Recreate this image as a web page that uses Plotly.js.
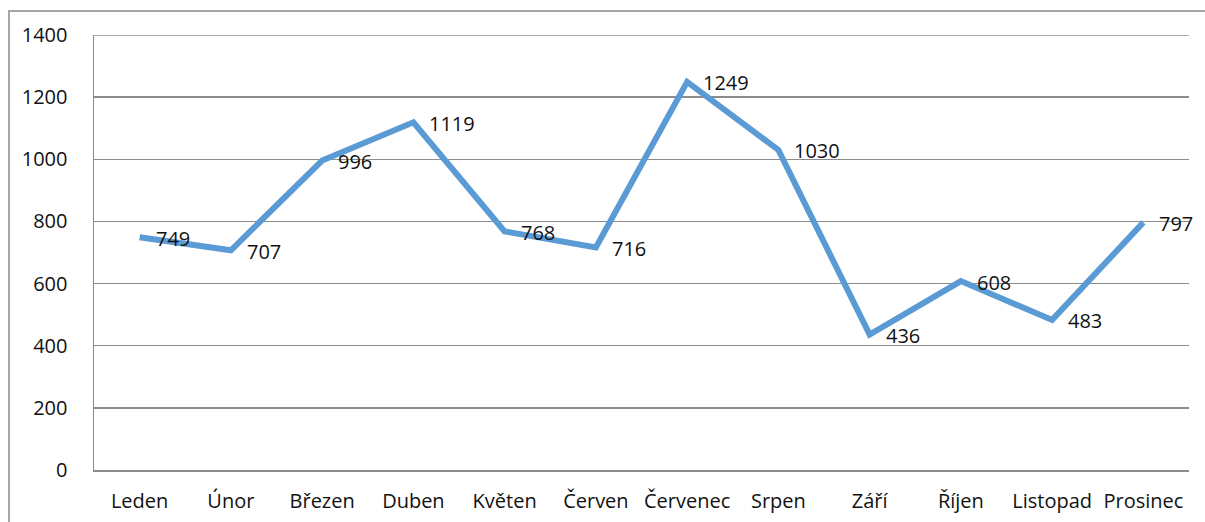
<!DOCTYPE html>
<html><head><meta charset="utf-8">
<script src="https://cdn.plot.ly/plotly-3.0.1.min.js"></script>
<style>
html,body{margin:0;padding:0;background:#fff;}
#frame{position:absolute;left:8px;top:10px;width:1300px;height:600px;border-left:2px solid #a6a6a6;border-top:2px solid #a6a6a6;box-sizing:border-box;}
#chart{position:absolute;left:0;top:0;width:1205px;height:522px;}
</style></head>
<body>
<div id="frame"></div>
<div id="chart"></div>
<script>
const months = ["Leden","Únor","Březen","Duben","Květen","Červen","Červenec","Srpen","Září","Říjen","Listopad","Prosinec"];
const values = [749,707,996,1119,768,716,1249,1030,436,608,483,797];
const yTicks = [0,200,400,600,800,1000,1200,1400];

const fontFam = "'Open Sans', Lato, sans-serif";
const txtColor = '#111';
const trace = {
  x: months, y: values, type: 'scatter', mode: 'lines',
  line: {color: '#5B9BD5', width: 6, shape: 'linear'},
  hoverinfo: 'skip', showlegend: false
};
const annotations = months.map((m, i) => ({
  x: m, y: values[i], xref: 'x', yref: 'y',
  text: String(values[i]), showarrow: false,
  xanchor: 'left', yanchor: 'middle', xshift: 14, yshift: -1,
  font: {family: fontFam, size: 20, color: txtColor}
}));
const layout = {
  width: 1205, height: 522,
  margin: {l: 94, r: 16, t: 35, b: 52, pad: 0},
  paper_bgcolor: 'rgba(0,0,0,0)', plot_bgcolor: 'rgba(0,0,0,0)',
  showlegend: false,
  xaxis: {
    type: 'category', range: [-0.5, 11.5],
    showgrid: false, showline: true, linecolor: '#8c8c8c', linewidth: 1.5,
    ticks: 'outside', ticklen: 12, tickcolor: 'rgba(0,0,0,0)',
    tickfont: {family: fontFam, size: 20, color: txtColor},
    fixedrange: true, zeroline: false
  },
  yaxis: {
    range: [0, 1400], tickvals: yTicks, ticktext: yTicks.map(String),
    showgrid: true, gridcolor: '#8c8c8c', gridwidth: 1.5,
    showline: true, linecolor: '#8c8c8c', linewidth: 1.5, zeroline: false,
    ticks: 'outside', ticklen: 21, tickcolor: 'rgba(0,0,0,0)',
    tickfont: {family: fontFam, size: 20, color: txtColor},
    fixedrange: true
  },
  shapes: [{type: 'line', xref: 'paper', yref: 'y', x0: 0, x1: 1, y0: yTicks[yTicks.length - 1], y1: yTicks[yTicks.length - 1],
            line: {color: '#8c8c8c', width: 1.5}, layer: 'below'}],
  annotations: annotations
};
Plotly.newPlot('chart', [trace], layout, {displayModeBar: false, staticPlot: true});
</script>
</body></html>
